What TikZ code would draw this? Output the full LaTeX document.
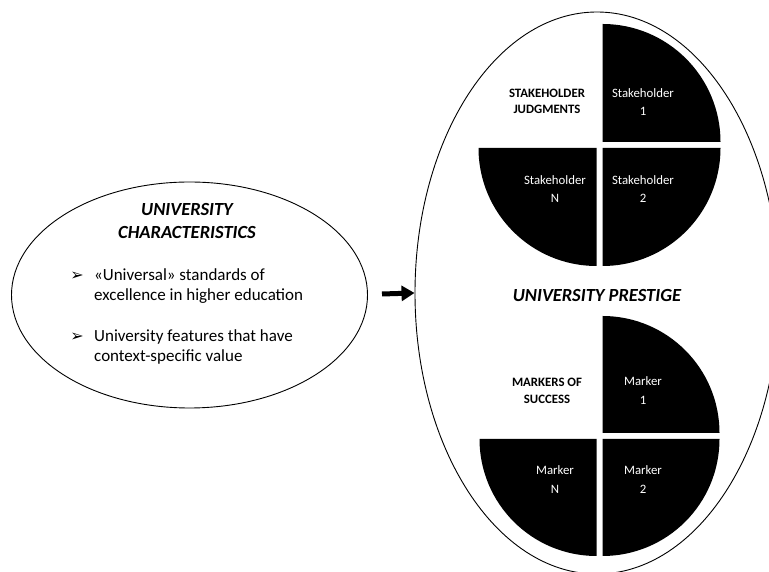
\documentclass[tikz,border=0pt]{standalone}
\usepackage{fontspec}
\setmainfont{Carlito}
\newfontfamily\symfont{DejaVu Sans}
\usetikzlibrary{shapes.geometric,arrows.meta,calc}

\tikzset{
  oval/.style={ellipse, draw=black, line width=0.9pt, inner sep=0pt},
  quadrant/.style={fill=black, draw=none},
  maintitle/.style={font=\fontsize{18.5}{22.5}\selectfont\bfseries\itshape, align=center, inner sep=0pt},
  itemtext/.style={font=\fontsize{17}{20}\selectfont, align=left, anchor=west, inner sep=0pt},
  bulletmark/.style={font=\symfont\fontsize{16}{18}\selectfont, inner sep=0pt},
  grouplabel/.style={font=\fontsize{12.8}{16.5}\selectfont\bfseries, align=center, inner sep=0pt},
  slicelabel/.style={font=\fontsize{12.8}{18.5}\selectfont, align=center, text=white, inner sep=0pt},
  bigarrow/.style={line width=5pt, -{Triangle[length=13pt,width=15pt]}},
}

% one pie of three black quarter slices around centre #1, radius #2, gap offset #3
\newcommand{\threeslices}[3]{%
  \fill[quadrant] ($#1+(#3,#3)$) -- ++(0,#2) arc[start angle=90,end angle=0,radius=#2] -- cycle;
  \fill[quadrant] ($#1+(#3,-#3)$) -- ++(#2,0) arc[start angle=0,end angle=-90,radius=#2] -- cycle;
  \fill[quadrant] ($#1+(-#3,-#3)$) -- ++(0,-#2) arc[start angle=270,end angle=180,radius=#2] -- cycle;
}

\begin{document}
\begin{tikzpicture}[x=1pt,y=1pt]
\clip (0,0) rectangle (769,572);
\fill[white] (0,0) rectangle (769,572);

% left oval: characteristics
\node[oval, minimum width=356pt, minimum height=226pt] (chars) at (189.5,277) {};
\node[maintitle] (charstitle) at (187,351) {UNIVERSITY\\CHARACTERISTICS};
\node[bulletmark] (b1) at (77,296) {➢};
\node[itemtext] (item1) at (94,286) {«Universal» standards of\\excellence in higher education};
\node[bulletmark] (b2) at (77,235) {➢};
\node[itemtext] (item2) at (94,225) {University features that have\\context-specific value};

% right oval: prestige
\node[oval, minimum width=364pt, minimum height=562pt] (prestige) at (597,279) {};

% arrow between the two
\coordinate (arrowstart) at (382,278);
\draw[bigarrow] (arrowstart) -- (prestige.west);

% stakeholder pie
\threeslices{(599.5,427)}{118}{3}
\node[grouplabel] (judg) at (547,470.5) {STAKEHOLDER\\JUDGMENTS};
\node[slicelabel] (s1) at (643,470) {Stakeholder\\1};
\node[slicelabel] (sn) at (555,383) {Stakeholder\\N};
\node[slicelabel] (s2) at (643,383) {Stakeholder\\2};

\node[maintitle] (prestigetitle) at (597,276) {UNIVERSITY PRESTIGE};

% markers pie
\threeslices{(599.5,136)}{117}{3}
\node[grouplabel] (succ) at (547,181) {MARKERS OF\\SUCCESS};
\node[slicelabel] (m1) at (643,181.5) {Marker\\1};
\node[slicelabel] (mn) at (555,92.5) {Marker\\N};
\node[slicelabel] (m2) at (643,92.5) {Marker\\2};
\end{tikzpicture}
\end{document}
